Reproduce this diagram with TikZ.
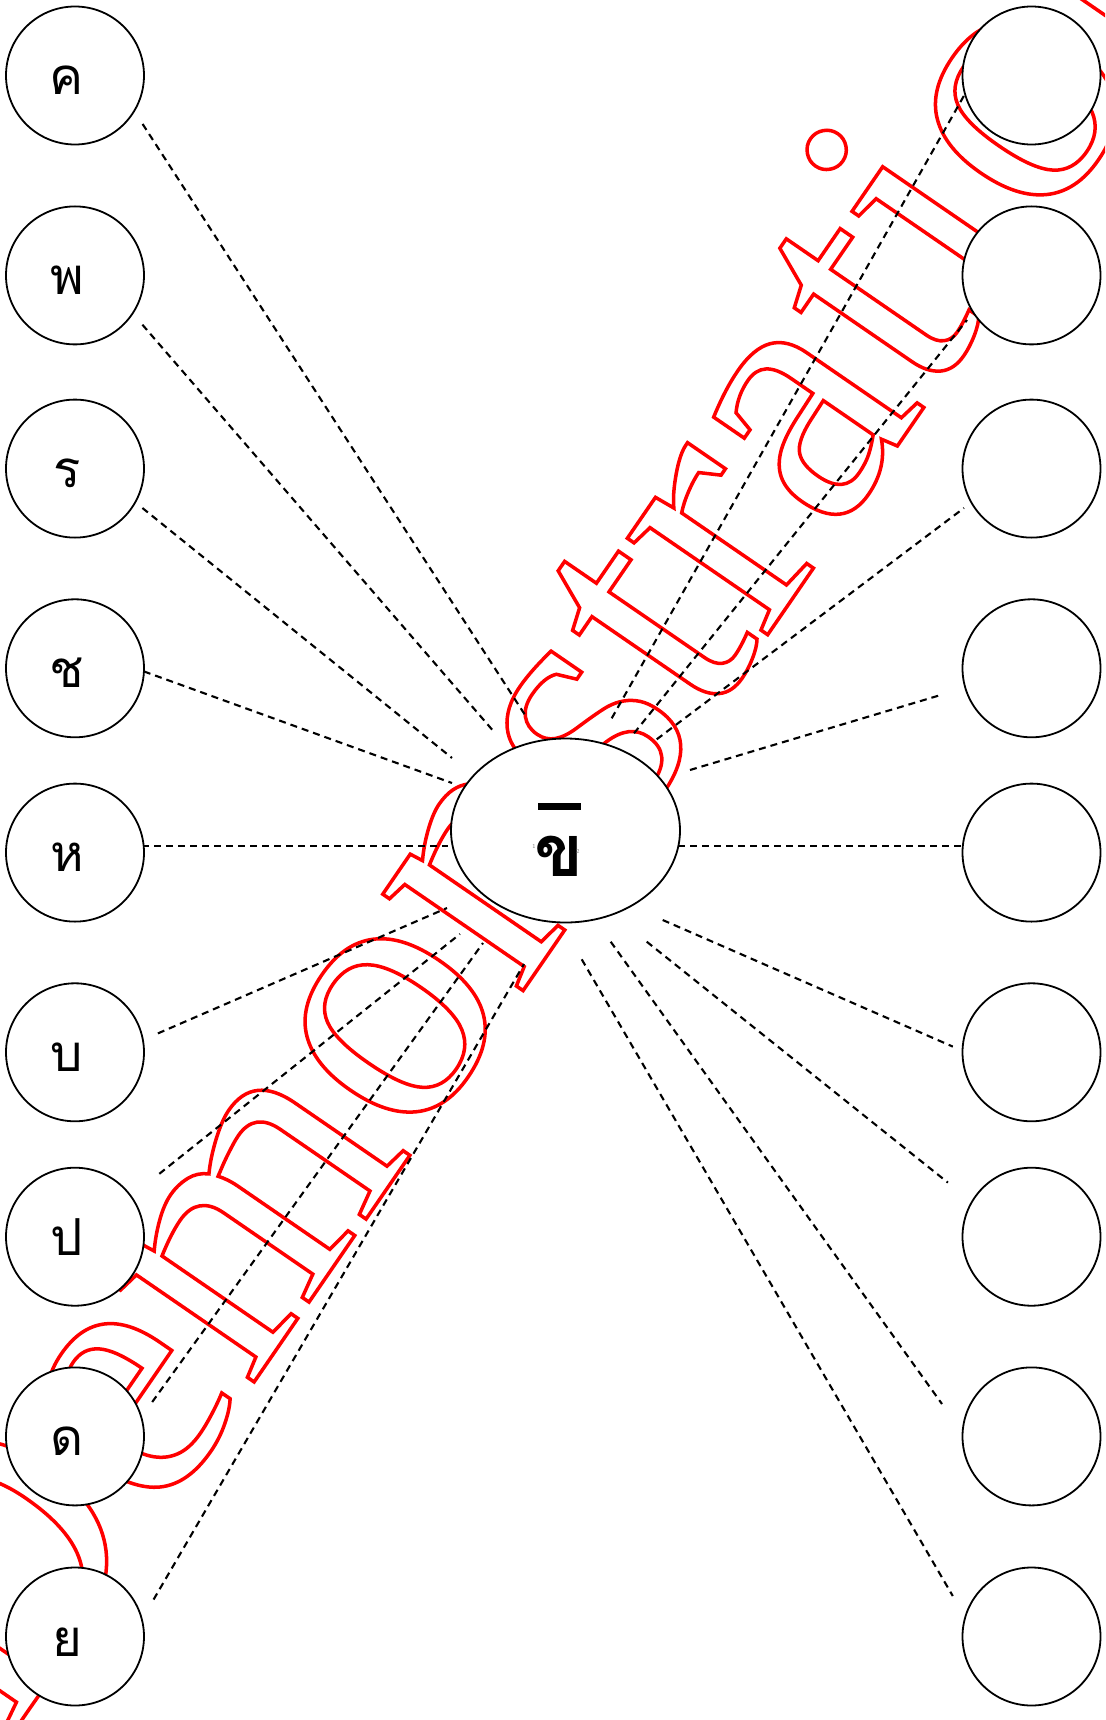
\documentclass[tikz,border=0pt]{standalone}
\usepackage{fontspec}
\newfontfamily\thaifont[Script=Thai]{Loma}
\newfontfamily\wmfont{Liberation Serif}
\usetikzlibrary{shapes.geometric}
\newcommand{\outlinetext}[1]{\textcolor{red}{\special{pdf:literal direct 1 Tr 3.5 w}#1\special{pdf:literal direct 0 Tr}}}
\tikzset{
  circ/.style={circle, draw, fill=white, line width=1.8pt, minimum size=138pt, inner sep=0pt},
  lab/.style={anchor=base, inner sep=0pt, font=\thaifont\fontsize{51}{54}\selectfont},
  conn/.style={dash pattern=on 7pt off 5pt, line width=2.1pt},
  wmark/.style={rotate=55.5, anchor=base west, inner sep=0pt, font=\wmfont\fontsize{371}{380}\selectfont},
}
\begin{document}
\begin{tikzpicture}[x=1pt,y=-1pt]
\useasboundingbox (0,0) rectangle (1105,1720);
\clip (0,0) rectangle (1105,1720);
\fill[white] (0,0) rectangle (1105,1720);
% watermark
\node[wmark] (wm) at (4.6,1745) {\outlinetext{Demonstration}};
% endpoints
\coordinate (a1) at (142.6,124);   \coordinate (b1) at (527,718);
\coordinate (a2) at (142.4,324.7); \coordinate (b2) at (495,733);
\coordinate (a3) at (142.4,508);   \coordinate (b3) at (452,758);
\coordinate (a4) at (143.8,671.4); \coordinate (b4) at (452,783);
\coordinate (a5) at (142.4,845.8); \coordinate (b5) at (448,845.8);
\coordinate (a6) at (157.9,1033.4);\coordinate (b6) at (447,908);
\coordinate (a7) at (159.3,1173.8);\coordinate (b7) at (460,934);
\coordinate (a8) at (152.2,1402);  \coordinate (b8) at (483,943);
\coordinate (a9) at (153.6,1599.5);\coordinate (b9) at (524,964);
\coordinate (c1) at (611.7,718.3); \coordinate (d1) at (965.5,93);
\coordinate (c2) at (634,733.3);   \coordinate (d2) at (967,320);
\coordinate (c3) at (656.7,739.3); \coordinate (d3) at (964,508);
\coordinate (c4) at (690,770);     \coordinate (d4) at (939,695.5);
\coordinate (c5) at (678,845.8);   \coordinate (d5) at (963,845.8);
\coordinate (c6) at (662.7,920);   \coordinate (d6) at (952.8,1046.6);
\coordinate (c7) at (646.7,941.7); \coordinate (d7) at (947.9,1182.6);
\coordinate (c8) at (610.7,941.7); \coordinate (d8) at (942,1404);
\coordinate (c9) at (581.7,959.3); \coordinate (d9) at (952.8,1596);
\foreach \i in {1,...,9} {
  \draw[conn] (a\i) -- (b\i);
  \draw[conn] (c\i) -- (d\i);
}
% left circles
\node[circ] (l1) at (75,75.5) {};
\node[circ] (l2) at (75,275.4) {};
\node[circ] (l3) at (75,468.6) {};
\node[circ] (l4) at (75,668.3) {};
\node[circ] (l5) at (75,852.6) {};
\node[circ] (l6) at (75,1052.3) {};
\node[circ] (l7) at (75,1236.7) {};
\node[circ] (l8) at (75,1436.4) {};
\node[circ] (l9) at (75,1636.5) {};
% right circles
\node[circ] (r1) at (1031.5,75.5) {};
\node[circ] (r2) at (1031.5,275.4) {};
\node[circ] (r3) at (1031.5,468.6) {};
\node[circ] (r4) at (1031.5,668.3) {};
\node[circ] (r5) at (1031.5,852.6) {};
\node[circ] (r6) at (1031.5,1052.3) {};
\node[circ] (r7) at (1031.5,1236.7) {};
\node[circ] (r8) at (1031.5,1436.4) {};
\node[circ] (r9) at (1031.5,1636.5) {};
% labels
\node[lab] (t1) at (67,94.5) {ค};
\node[lab] (t2) at (67,294.4) {พ};
\node[lab] (t3) at (67,487.6) {ร};
\node[lab] (t4) at (67,687.3) {ช};
\node[lab] (t5) at (67,871.6) {ห};
\node[lab] (t6) at (67,1071.3) {บ};
\node[lab] (t7) at (67,1255.7) {ป};
\node[lab] (t8) at (67,1455.4) {ด};
\node[lab] (t9) at (67,1656.5) {ย};
% centre
\node[ellipse, draw, fill=white, line width=1.8pt, minimum width=229pt, minimum height=184pt, inner sep=0pt] (ctr) at (565.5,830.5) {};
\fill (538,803) rectangle (581,809.5);
\node[anchor=base, inner sep=0pt, font=\thaifont\bfseries\fontsize{72}{76}\selectfont] (ck) at (559,876.5) {ข};
\node[inner sep=0pt, text=gray, font=\sffamily\fontsize{6}{6}\selectfont] (n1) at (534,846.7) {1};
\node[inner sep=0pt, text=gray, font=\sffamily\fontsize{6}{6}\selectfont] (n2) at (578,851) {2};
\end{tikzpicture}
\end{document}
